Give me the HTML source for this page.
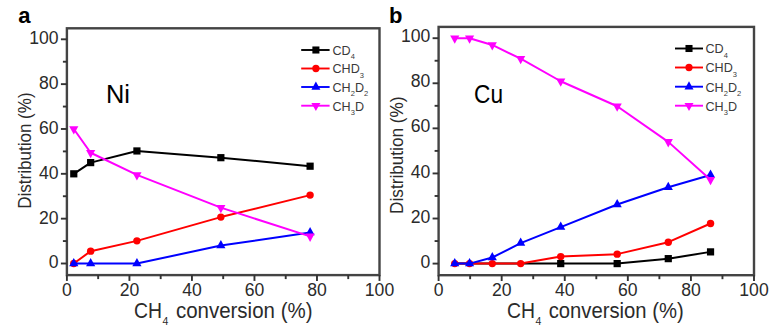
<!DOCTYPE html>
<html><head><meta charset="utf-8"><style>
html,body{margin:0;padding:0;background:#fff;}
svg{display:block;}
text{font-family:"Liberation Sans", sans-serif;}
</style></head><body>
<svg width="772" height="332" viewBox="0 0 772 332">
<polyline points="73.78,173.82 90.66,162.61 136.92,150.95 220.86,157.68 310.10,166.20" fill="none" stroke="#000000" stroke-width="2.0" stroke-linejoin="round"/>
<rect x="70.18" y="170.22" width="7.20" height="7.20" fill="#000000"/>
<rect x="87.06" y="159.01" width="7.20" height="7.20" fill="#000000"/>
<rect x="133.32" y="147.35" width="7.20" height="7.20" fill="#000000"/>
<rect x="217.26" y="154.08" width="7.20" height="7.20" fill="#000000"/>
<rect x="306.50" y="162.60" width="7.20" height="7.20" fill="#000000"/>
<polyline points="73.78,263.50 90.66,251.17 136.92,240.86 220.86,217.09 310.10,195.12" fill="none" stroke="#ff0000" stroke-width="2.0" stroke-linejoin="round"/>
<circle cx="73.78" cy="263.50" r="3.70" fill="#ff0000"/>
<circle cx="90.66" cy="251.17" r="3.70" fill="#ff0000"/>
<circle cx="136.92" cy="240.86" r="3.70" fill="#ff0000"/>
<circle cx="220.86" cy="217.09" r="3.70" fill="#ff0000"/>
<circle cx="310.10" cy="195.12" r="3.70" fill="#ff0000"/>
<polyline points="73.78,263.50 90.66,263.50 136.92,263.50 220.86,245.56 310.10,232.56" fill="none" stroke="#0000ff" stroke-width="2.0" stroke-linejoin="round"/>
<polygon points="73.78,257.97 78.38,266.27 69.18,266.27" fill="#0000ff"/>
<polygon points="90.66,257.97 95.26,266.27 86.06,266.27" fill="#0000ff"/>
<polygon points="136.92,257.97 141.52,266.27 132.32,266.27" fill="#0000ff"/>
<polygon points="220.86,240.03 225.46,248.33 216.26,248.33" fill="#0000ff"/>
<polygon points="310.10,227.03 314.70,235.33 305.50,235.33" fill="#0000ff"/>
<polyline points="73.78,128.98 90.66,152.75 136.92,174.94 220.86,207.67 310.10,236.37" fill="none" stroke="#ff00ff" stroke-width="2.0" stroke-linejoin="round"/>
<polygon points="73.78,134.51 78.38,126.21 69.18,126.21" fill="#ff00ff"/>
<polygon points="90.66,158.28 95.26,149.98 86.06,149.98" fill="#ff00ff"/>
<polygon points="136.92,180.47 141.52,172.17 132.32,172.17" fill="#ff00ff"/>
<polygon points="220.86,213.21 225.46,204.91 216.26,204.91" fill="#ff00ff"/>
<polygon points="310.10,241.91 314.70,233.61 305.50,233.61" fill="#ff00ff"/>
<rect x="66.90" y="28.30" width="312.60" height="246.80" fill="none" stroke="#444" stroke-width="2.4"/>
<line x1="60.90" y1="263.50" x2="66.90" y2="263.50" stroke="#333" stroke-width="1.9"/>
<text x="58.60" y="268.40" text-anchor="end" font-size="17.6" fill="#2b2b2b" >0</text>
<line x1="62.90" y1="241.08" x2="66.90" y2="241.08" stroke="#333" stroke-width="1.9"/>
<line x1="60.90" y1="218.66" x2="66.90" y2="218.66" stroke="#333" stroke-width="1.9"/>
<text x="58.60" y="223.56" text-anchor="end" font-size="17.6" fill="#2b2b2b" >20</text>
<line x1="62.90" y1="196.24" x2="66.90" y2="196.24" stroke="#333" stroke-width="1.9"/>
<line x1="60.90" y1="173.82" x2="66.90" y2="173.82" stroke="#333" stroke-width="1.9"/>
<text x="58.60" y="178.72" text-anchor="end" font-size="17.6" fill="#2b2b2b" >40</text>
<line x1="62.90" y1="151.40" x2="66.90" y2="151.40" stroke="#333" stroke-width="1.9"/>
<line x1="60.90" y1="128.98" x2="66.90" y2="128.98" stroke="#333" stroke-width="1.9"/>
<text x="58.60" y="133.88" text-anchor="end" font-size="17.6" fill="#2b2b2b" >60</text>
<line x1="62.90" y1="106.56" x2="66.90" y2="106.56" stroke="#333" stroke-width="1.9"/>
<line x1="60.90" y1="84.14" x2="66.90" y2="84.14" stroke="#333" stroke-width="1.9"/>
<text x="58.60" y="89.04" text-anchor="end" font-size="17.6" fill="#2b2b2b" >80</text>
<line x1="62.90" y1="61.72" x2="66.90" y2="61.72" stroke="#333" stroke-width="1.9"/>
<line x1="60.90" y1="39.30" x2="66.90" y2="39.30" stroke="#333" stroke-width="1.9"/>
<text x="58.60" y="44.20" text-anchor="end" font-size="17.6" fill="#2b2b2b" >100</text>
<line x1="66.90" y1="275.10" x2="66.90" y2="280.90" stroke="#333" stroke-width="1.9"/>
<text x="66.90" y="296.00" text-anchor="middle" font-size="17.6" fill="#2b2b2b">0</text>
<line x1="98.16" y1="275.10" x2="98.16" y2="279.10" stroke="#333" stroke-width="1.9"/>
<line x1="129.42" y1="275.10" x2="129.42" y2="280.90" stroke="#333" stroke-width="1.9"/>
<text x="129.42" y="296.00" text-anchor="middle" font-size="17.6" fill="#2b2b2b">20</text>
<line x1="160.68" y1="275.10" x2="160.68" y2="279.10" stroke="#333" stroke-width="1.9"/>
<line x1="191.94" y1="275.10" x2="191.94" y2="280.90" stroke="#333" stroke-width="1.9"/>
<text x="191.94" y="296.00" text-anchor="middle" font-size="17.6" fill="#2b2b2b">40</text>
<line x1="223.20" y1="275.10" x2="223.20" y2="279.10" stroke="#333" stroke-width="1.9"/>
<line x1="254.46" y1="275.10" x2="254.46" y2="280.90" stroke="#333" stroke-width="1.9"/>
<text x="254.46" y="296.00" text-anchor="middle" font-size="17.6" fill="#2b2b2b">60</text>
<line x1="285.72" y1="275.10" x2="285.72" y2="279.10" stroke="#333" stroke-width="1.9"/>
<line x1="316.98" y1="275.10" x2="316.98" y2="280.90" stroke="#333" stroke-width="1.9"/>
<text x="316.98" y="296.00" text-anchor="middle" font-size="17.6" fill="#2b2b2b">80</text>
<line x1="348.24" y1="275.10" x2="348.24" y2="279.10" stroke="#333" stroke-width="1.9"/>
<line x1="379.50" y1="275.10" x2="379.50" y2="280.90" stroke="#333" stroke-width="1.9"/>
<text x="379.50" y="296.00" text-anchor="middle" font-size="17.6" fill="#2b2b2b">100</text>
<text transform="translate(31.20,150.60) rotate(-90)" text-anchor="middle" font-size="19" fill="#2b2b2b" textLength="116.3" lengthAdjust="spacingAndGlyphs">Distribution (%)</text>
<text x="18.20" y="23.00" font-size="22" font-weight="bold" fill="#000">a</text>
<text x="106.00" y="103.00" font-size="25" fill="#000" textLength="24" lengthAdjust="spacingAndGlyphs">Ni</text>
<line x1="301.2" y1="50" x2="329.6" y2="50" stroke="#000000" stroke-width="1.9"/>
<rect x="312.37" y="46.47" width="7.06" height="7.06" fill="#000000"/>
<line x1="301.2" y1="68.5" x2="329.6" y2="68.5" stroke="#ff0000" stroke-width="1.9"/>
<circle cx="315.90" cy="68.50" r="3.63" fill="#ff0000"/>
<line x1="301.2" y1="87" x2="329.6" y2="87" stroke="#0000ff" stroke-width="1.9"/>
<polygon points="315.90,81.58 320.41,89.71 311.39,89.71" fill="#0000ff"/>
<line x1="301.2" y1="105.7" x2="329.6" y2="105.7" stroke="#ff00ff" stroke-width="1.9"/>
<polygon points="315.90,111.12 320.41,102.99 311.39,102.99" fill="#ff00ff"/>
<text x="332.50" y="54.90" font-size="12.6" fill="#3a3a3a">CD<tspan font-size="7.5" dy="4.2">4</tspan></text>
<text x="332.50" y="73.40" font-size="12.6" fill="#3a3a3a">CHD<tspan font-size="7.5" dy="4.2">3</tspan></text>
<text x="332.50" y="91.90" font-size="12.6" fill="#3a3a3a">CH<tspan font-size="7.5" dy="4.2">2</tspan><tspan dy="-4.2">D</tspan><tspan font-size="7.5" dy="4.2">2</tspan></text>
<text x="332.50" y="110.60" font-size="12.6" fill="#3a3a3a">CH<tspan font-size="7.5" dy="4.2">3</tspan><tspan dy="-4.2">D</tspan></text>
<text x="133.90" y="318.2" font-size="21.8" fill="#2b2b2b" textLength="28" lengthAdjust="spacingAndGlyphs">CH</text><text x="162.50" y="324.60" font-size="10.5" fill="#2b2b2b">4</text><text x="175.90" y="318.2" font-size="21.8" fill="#2b2b2b" textLength="136.60" lengthAdjust="spacingAndGlyphs">conversion (%)</text>
<polyline points="454.75,263.60 469.57,263.60 492.28,263.60 520.67,263.60 560.72,263.60 617.18,263.60 668.27,258.64 710.54,251.88" fill="none" stroke="#000000" stroke-width="2.0" stroke-linejoin="round"/>
<rect x="557.12" y="260.00" width="7.20" height="7.20" fill="#000000"/>
<rect x="613.58" y="260.00" width="7.20" height="7.20" fill="#000000"/>
<rect x="664.67" y="255.04" width="7.20" height="7.20" fill="#000000"/>
<rect x="706.94" y="248.28" width="7.20" height="7.20" fill="#000000"/>
<polyline points="454.75,263.60 469.57,263.60 492.28,263.60 520.67,263.60 560.72,256.61 617.18,254.13 668.27,242.19 710.54,223.48" fill="none" stroke="#ff0000" stroke-width="2.0" stroke-linejoin="round"/>
<circle cx="454.75" cy="263.60" r="3.70" fill="#ff0000"/>
<circle cx="469.57" cy="263.60" r="3.70" fill="#ff0000"/>
<circle cx="492.28" cy="263.60" r="3.70" fill="#ff0000"/>
<circle cx="520.67" cy="263.60" r="3.70" fill="#ff0000"/>
<circle cx="560.72" cy="256.61" r="3.70" fill="#ff0000"/>
<circle cx="617.18" cy="254.13" r="3.70" fill="#ff0000"/>
<circle cx="668.27" cy="242.19" r="3.70" fill="#ff0000"/>
<circle cx="710.54" cy="223.48" r="3.70" fill="#ff0000"/>
<polyline points="454.75,263.60 469.57,263.60 492.28,257.51 520.67,243.09 560.72,227.09 617.18,204.55 668.27,187.19 710.54,175.02" fill="none" stroke="#0000ff" stroke-width="2.0" stroke-linejoin="round"/>
<polygon points="454.75,258.07 459.35,266.37 450.15,266.37" fill="#0000ff"/>
<polygon points="469.57,258.07 474.17,266.37 464.97,266.37" fill="#0000ff"/>
<polygon points="492.28,251.98 496.88,260.28 487.68,260.28" fill="#0000ff"/>
<polygon points="520.67,237.56 525.27,245.86 516.07,245.86" fill="#0000ff"/>
<polygon points="560.72,221.55 565.32,229.85 556.12,229.85" fill="#0000ff"/>
<polygon points="617.18,199.01 621.78,207.31 612.58,207.31" fill="#0000ff"/>
<polygon points="668.27,181.66 672.87,189.96 663.67,189.96" fill="#0000ff"/>
<polygon points="710.54,169.48 715.14,177.78 705.94,177.78" fill="#0000ff"/>
<polyline points="454.75,38.20 469.57,38.20 492.28,44.96 520.67,58.71 560.72,81.25 617.18,106.27 668.27,141.88 710.54,179.75" fill="none" stroke="#ff00ff" stroke-width="2.0" stroke-linejoin="round"/>
<polygon points="454.75,43.73 459.35,35.43 450.15,35.43" fill="#ff00ff"/>
<polygon points="469.57,43.73 474.17,35.43 464.97,35.43" fill="#ff00ff"/>
<polygon points="492.28,50.50 496.88,42.20 487.68,42.20" fill="#ff00ff"/>
<polygon points="520.67,64.24 525.27,55.94 516.07,55.94" fill="#ff00ff"/>
<polygon points="560.72,86.78 565.32,78.48 556.12,78.48" fill="#ff00ff"/>
<polygon points="617.18,111.80 621.78,103.50 612.58,103.50" fill="#ff00ff"/>
<polygon points="668.27,147.42 672.87,139.12 663.67,139.12" fill="#ff00ff"/>
<polygon points="710.54,185.28 715.14,176.98 705.94,176.98" fill="#ff00ff"/>
<rect x="438.60" y="26.90" width="315.40" height="248.30" fill="none" stroke="#444" stroke-width="2.4"/>
<line x1="432.60" y1="263.60" x2="438.60" y2="263.60" stroke="#333" stroke-width="1.9"/>
<text x="430.30" y="267.70" text-anchor="end" font-size="17.6" fill="#2b2b2b" >0</text>
<line x1="434.60" y1="241.06" x2="438.60" y2="241.06" stroke="#333" stroke-width="1.9"/>
<line x1="432.60" y1="218.52" x2="438.60" y2="218.52" stroke="#333" stroke-width="1.9"/>
<text x="430.30" y="222.62" text-anchor="end" font-size="17.6" fill="#2b2b2b" >20</text>
<line x1="434.60" y1="195.98" x2="438.60" y2="195.98" stroke="#333" stroke-width="1.9"/>
<line x1="432.60" y1="173.44" x2="438.60" y2="173.44" stroke="#333" stroke-width="1.9"/>
<text x="430.30" y="177.54" text-anchor="end" font-size="17.6" fill="#2b2b2b" >40</text>
<line x1="434.60" y1="150.90" x2="438.60" y2="150.90" stroke="#333" stroke-width="1.9"/>
<line x1="432.60" y1="128.36" x2="438.60" y2="128.36" stroke="#333" stroke-width="1.9"/>
<text x="430.30" y="132.46" text-anchor="end" font-size="17.6" fill="#2b2b2b" >60</text>
<line x1="434.60" y1="105.82" x2="438.60" y2="105.82" stroke="#333" stroke-width="1.9"/>
<line x1="432.60" y1="83.28" x2="438.60" y2="83.28" stroke="#333" stroke-width="1.9"/>
<text x="430.30" y="87.38" text-anchor="end" font-size="17.6" fill="#2b2b2b" >80</text>
<line x1="434.60" y1="60.74" x2="438.60" y2="60.74" stroke="#333" stroke-width="1.9"/>
<line x1="432.60" y1="38.20" x2="438.60" y2="38.20" stroke="#333" stroke-width="1.9"/>
<text x="430.30" y="42.30" text-anchor="end" font-size="17.6" fill="#2b2b2b" >100</text>
<line x1="438.60" y1="275.20" x2="438.60" y2="281.00" stroke="#333" stroke-width="1.9"/>
<text x="438.60" y="296.00" text-anchor="middle" font-size="17.6" fill="#2b2b2b">0</text>
<line x1="470.14" y1="275.20" x2="470.14" y2="279.20" stroke="#333" stroke-width="1.9"/>
<line x1="501.68" y1="275.20" x2="501.68" y2="281.00" stroke="#333" stroke-width="1.9"/>
<text x="501.68" y="296.00" text-anchor="middle" font-size="17.6" fill="#2b2b2b">20</text>
<line x1="533.22" y1="275.20" x2="533.22" y2="279.20" stroke="#333" stroke-width="1.9"/>
<line x1="564.76" y1="275.20" x2="564.76" y2="281.00" stroke="#333" stroke-width="1.9"/>
<text x="564.76" y="296.00" text-anchor="middle" font-size="17.6" fill="#2b2b2b">40</text>
<line x1="596.30" y1="275.20" x2="596.30" y2="279.20" stroke="#333" stroke-width="1.9"/>
<line x1="627.84" y1="275.20" x2="627.84" y2="281.00" stroke="#333" stroke-width="1.9"/>
<text x="627.84" y="296.00" text-anchor="middle" font-size="17.6" fill="#2b2b2b">60</text>
<line x1="659.38" y1="275.20" x2="659.38" y2="279.20" stroke="#333" stroke-width="1.9"/>
<line x1="690.92" y1="275.20" x2="690.92" y2="281.00" stroke="#333" stroke-width="1.9"/>
<text x="690.92" y="296.00" text-anchor="middle" font-size="17.6" fill="#2b2b2b">80</text>
<line x1="722.46" y1="275.20" x2="722.46" y2="279.20" stroke="#333" stroke-width="1.9"/>
<line x1="754.00" y1="275.20" x2="754.00" y2="281.00" stroke="#333" stroke-width="1.9"/>
<text x="754.00" y="296.00" text-anchor="middle" font-size="17.6" fill="#2b2b2b">100</text>
<text transform="translate(402.80,155.20) rotate(-90)" text-anchor="middle" font-size="19" fill="#2b2b2b" textLength="117.4" lengthAdjust="spacingAndGlyphs">Distribution (%)</text>
<text x="389.00" y="23.00" font-size="22" font-weight="bold" fill="#000">b</text>
<text x="474.00" y="103.30" font-size="25" fill="#000" textLength="29" lengthAdjust="spacingAndGlyphs">Cu</text>
<line x1="675" y1="48.5" x2="703" y2="48.5" stroke="#000000" stroke-width="1.9"/>
<rect x="685.47" y="44.97" width="7.06" height="7.06" fill="#000000"/>
<line x1="675" y1="67.5" x2="703" y2="67.5" stroke="#ff0000" stroke-width="1.9"/>
<circle cx="689.00" cy="67.50" r="3.63" fill="#ff0000"/>
<line x1="675" y1="86.7" x2="703" y2="86.7" stroke="#0000ff" stroke-width="1.9"/>
<polygon points="689.00,81.28 693.51,89.41 684.49,89.41" fill="#0000ff"/>
<line x1="675" y1="105.7" x2="703" y2="105.7" stroke="#ff00ff" stroke-width="1.9"/>
<polygon points="689.00,111.12 693.51,102.99 684.49,102.99" fill="#ff00ff"/>
<text x="705.50" y="53.40" font-size="12.6" fill="#3a3a3a">CD<tspan font-size="7.5" dy="4.2">4</tspan></text>
<text x="705.50" y="72.40" font-size="12.6" fill="#3a3a3a">CHD<tspan font-size="7.5" dy="4.2">3</tspan></text>
<text x="705.50" y="91.60" font-size="12.6" fill="#3a3a3a">CH<tspan font-size="7.5" dy="4.2">2</tspan><tspan dy="-4.2">D</tspan><tspan font-size="7.5" dy="4.2">2</tspan></text>
<text x="705.50" y="110.60" font-size="12.6" fill="#3a3a3a">CH<tspan font-size="7.5" dy="4.2">3</tspan><tspan dy="-4.2">D</tspan></text>
<text x="506.90" y="318.2" font-size="21.8" fill="#2b2b2b" textLength="28" lengthAdjust="spacingAndGlyphs">CH</text><text x="535.50" y="324.60" font-size="10.5" fill="#2b2b2b">4</text><text x="548.70" y="318.2" font-size="21.8" fill="#2b2b2b" textLength="135.00" lengthAdjust="spacingAndGlyphs">conversion (%)</text>
</svg></body></html>
